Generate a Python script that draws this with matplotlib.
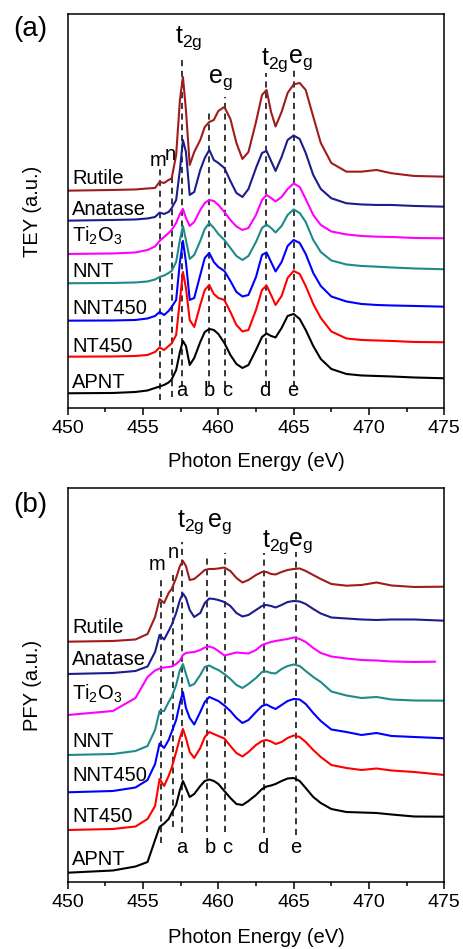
import matplotlib
matplotlib.use('Agg')
import matplotlib.pyplot as plt
from matplotlib.ticker import MultipleLocator

plt.rcParams['font.family'] = ['Liberation Sans', 'DejaVu Sans']
plt.rcParams['mathtext.default'] = 'regular'

# photon energy grid (eV) the spectra were read at
energy = [450, 453, 454.5, 455.3, 455.8, 456.1, 456.4, 456.7, 456.9, 457.2,
          457.45, 457.65, 457.85, 458.1, 458.4, 458.8, 459.1, 459.4, 459.7, 460.0,
          460.4, 460.8, 461.2, 461.6, 462.0, 462.5, 462.9, 463.2, 463.5, 463.8,
          464.2, 464.6, 465.0, 465.4, 465.8, 466.3, 466.8, 467.5, 468.5, 469.5,
          470.5, 471.5, 473, 475]

samples = ['Rutile', 'Anatase', '$Ti_2O_3$', 'NNT', 'NNT450', 'NT450', 'APNT']
colours = ['#a01c1c', '#1c1c8c', '#ff00ff', '#1f8a8a', '#0000ff', '#ff0000', '#000000']

# TEY, stacked intensities (a.u.)
tey_rutile = [217.3, 218, 218.5, 219.5, 220, 226, 225, 228, 229.5, 253,
              308, 331, 298, 243, 256, 268, 281, 286, 288, 297,
              301, 289, 265, 249, 256, 286, 313, 318, 296, 281.5,
              296, 315, 323.5, 325, 318, 291.3, 265, 245, 236.3, 236.3,
              238, 234.7, 232, 231.3]
tey_anatase = [187.3, 188, 188.5, 189.5, 191, 195.3, 194, 196, 199.7, 208,
               238, 268, 256, 213, 216, 238, 250, 258, 248, 245,
               240, 227, 215, 211, 219, 240, 255, 257, 247, 237,
               251, 268, 272.5, 269, 255, 233, 219, 209.7, 204.7, 203.5,
               203, 203, 202, 201.3]
tey_ti2o3 = [154, 154.5, 155.5, 158, 161.5, 167, 171, 175, 178, 185,
             194, 199, 190, 182, 186, 198, 205, 208, 207, 203,
             196, 188, 181.5, 178, 180, 193, 208, 213, 210, 206.5,
             211, 219, 224.5, 221, 209, 193, 183, 176.5, 173.5, 172,
             171.3, 171, 170, 169.7]
tey_nnt = [124.7, 125, 125.5, 126.5, 128.5, 131, 132.5, 135, 137, 146,
           168, 182, 168, 149, 153, 167, 179, 185, 180, 174,
           168, 160, 152, 148, 152, 166, 180, 183.5, 180, 175.5,
           182, 193, 198.5, 195, 186, 168, 156, 147.5, 143.5, 142,
           141.3, 140.5, 139.5, 138.7]
tey_nnt450 = [87.3, 87.5, 88, 89.5, 92, 96, 93, 97, 101, 108,
              146, 167, 146, 108, 110, 133, 150, 155, 146, 141,
              137, 127, 116, 111.5, 113, 131, 153, 155.5, 146, 136.5,
              146, 162, 168, 165, 154, 135, 122, 111.5, 106.5, 104,
              103, 102.5, 102, 101.3]
tey_nt450 = [51.3, 51.5, 52, 53, 56, 60.5, 58, 62, 64.5, 73,
             108, 136, 120, 88, 81, 103, 118, 123, 114, 110,
             108, 96, 83, 76.5, 78, 98, 118, 122.5, 113, 103,
             112, 130, 137, 134, 122, 104, 90, 76.5, 69.5, 68,
             67.5, 67, 66, 65.7]
tey_apnt = [14.7, 15, 16, 17.5, 20, 21.5, 23, 25.5, 28.5, 38,
            56, 67, 62, 43, 50, 66, 76, 79, 78, 74,
            65, 53, 44, 40, 43, 58, 71, 74.5, 72, 70.5,
            80, 92, 94, 89, 78, 62, 49, 39, 34, 32.5,
            32, 31.5, 30.5, 29.7]

# PFY, stacked intensities (a.u.)
pfy_rutile = [240.3, 241, 242.5, 248, 265, 283, 279, 289, 293, 304,
              316, 321, 316, 302, 303, 308, 312, 313, 313, 313.5,
              314.5, 311, 304, 299.5, 302, 307, 310, 310, 308, 307.5,
              310, 312, 313, 313.5, 311, 307, 303, 298, 296.3, 297,
              299.5, 296.5, 295, 295.3]
pfy_anatase = [208, 209, 211, 215.5, 230, 247, 242.5, 251, 257, 269,
               282, 288.5, 284, 272, 265, 269, 279, 283.5, 283, 282,
               280, 276, 269, 265.5, 267, 272, 276, 277, 276, 274.5,
               277, 280, 281, 280.5, 278, 273, 268.5, 264.5, 263.5, 262.5,
               262, 262.5, 262.5, 261.3]
pfy_ti2o3 = [167, 171, 184, 205, 211.5, 213.5, 214.5, 215, 215.5, 218,
             221.5, 227, 229, 229.5, 230, 232, 234.5, 235.5, 234, 231,
             226.5, 228, 229.5, 229, 228.5, 232, 237, 238.5, 240, 241,
             242, 243, 244.5, 243, 240, 234, 229, 225.5, 223.5, 222,
             221.5, 220.5, 220, 220.3]
pfy_nnt = [127, 128, 131, 136, 152, 171, 171, 180, 185, 197,
           212, 218, 208, 196, 198, 207, 215, 216.5, 214, 212,
           208, 203, 197, 194, 198, 204, 210, 210.5, 209, 208.5,
           213, 216, 217.5, 216, 211, 205, 200, 190.5, 186.5, 184,
           185, 182.5, 181.5, 181.3]
pfy_nnt450 = [89.7, 91, 94.5, 102, 118, 138.5, 134, 142, 150, 162,
              179, 190, 174, 164, 157.5, 170, 180, 185, 183, 181,
              176.5, 171, 164, 159, 162, 170, 176, 177.5, 175, 173,
              177, 181, 183, 182.5, 178, 169, 161, 152.5, 150, 147,
              149, 146, 145, 143.7]
pfy_nt450 = [52, 53, 55.5, 63, 76, 103, 96, 106, 114, 130,
             144, 153, 144, 130, 124, 134, 145, 150, 148, 146,
             143.5, 136, 129, 125.5, 130, 137, 141, 142, 140.5, 138,
             140, 144, 146.5, 145, 140, 132, 125, 117, 114, 112,
             113.5, 111.5, 110, 107]
pfy_apnt = [9.3, 11.5, 15.5, 20, 42, 55, 58.5, 63, 69, 77,
            92, 101, 94, 85, 88, 96, 101, 102.5, 101, 98,
            91, 84, 78, 77, 81, 87, 93, 95.5, 96.5, 98,
            101, 103.5, 104, 101, 94, 85, 79, 73, 70, 69.5,
            69, 67.5, 65.5, 65.3]

# Ti2O3 scans stop a little short of 475 eV
tey_ti2o3_end = 474.9
pfy_ti2o3_end = 474.4

# feature positions (eV): pre-edge m, n and main peaks a-e
peak_names = ['a', 'b', 'c', 'd', 'e']
tey_pre = [456.12, 456.9]
tey_peaks = [457.6, 459.38, 460.44, 463.16, 465.0]
pfy_pre = [456.17, 456.97]
pfy_peaks = [457.6, 459.24, 460.44, 463.05, 465.13]
tey_letters_x = [457.56, 459.4, 460.62, 463.09, 464.97]
pfy_letters_x = [457.56, 459.44, 460.62, 462.98, 465.13]

fig = plt.figure(figsize=(4.63, 9.49), dpi=100)
ax1 = fig.add_axes([0.1462, 0.5701, 0.8134, 0.4152])
ax2 = fig.add_axes([0.1462, 0.0706, 0.8134, 0.4152])

tey = [tey_rutile, tey_anatase, tey_ti2o3, tey_nnt, tey_nnt450, tey_nt450, tey_apnt]
pfy = [pfy_rutile, pfy_anatase, pfy_ti2o3, pfy_nnt, pfy_nnt450, pfy_nt450, pfy_apnt]


def draw_panel(ax, spectra, ti_end, pre, peaks, letters_x, layout):
    # dashed guide lines first so the spectra sit on top
    for e, (y0, y1) in zip(pre, layout['pre_span']):
        ax.plot([e, e], [y0, y1], color='k', lw=1.1, ls=(0, (4, 3)))
    for e, (y0, y1) in zip(peaks, layout['peak_span']):
        ax.plot([e, e], [y0, y1], color='k', lw=1.1, ls=(0, (4, 3)))

    for k, spec in enumerate(spectra):
        x = list(energy)
        if k == 2:
            x[-1] = ti_end
        ax.plot(x, spec, color=colours[k], lw=1.5,
                solid_joinstyle='round', solid_capstyle='round')

    for name, yb in zip(samples, layout['label_y']):
        ax.text(450.3, yb, name, fontsize=14.5, ha='left', va='baseline')

    for name, xl in zip(peak_names, letters_x):
        ax.text(xl, layout['letter_y'], name, fontsize=14.5, ha='center', va='baseline')
    for name, (xm, ym) in zip(['m', 'n'], layout['mn_pos']):
        ax.text(xm, ym, name, fontsize=14.5, ha='center', va='baseline')
    for name, (xm, ym) in zip(['$t_{2g}$', '$e_g$', '$t_{2g}$', '$e_g$'], layout['split_pos']):
        ax.text(xm, ym, name, fontsize=18, ha='left', va='baseline')

    ax.set_xlim(450, 475)
    ax.set_ylim(0, 394)
    ax.set_yticks([])
    ax.xaxis.set_major_locator(MultipleLocator(5))
    ax.xaxis.set_minor_locator(MultipleLocator(2.5))
    ax.tick_params(axis='x', which='major', direction='out', length=5, width=1.1,
                   labelsize=14, pad=3.5)
    ax.tick_params(axis='x', which='minor', direction='out', length=2.8, width=1.1)
    for sp in ax.spines.values():
        sp.set_linewidth(1.1)


draw_panel(ax1, tey, tey_ti2o3_end, tey_pre, tey_peaks, tey_letters_x, {
    'pre_span': [(8, 241), (11, 235)],
    'peak_span': [(21, 350), (21, 299), (21, 311), (21, 335), (21, 338)],
    'label_y': [224, 193, 166.5, 131.3, 94, 56.3, 19.7],
    'letter_y': 12,
    'mn_pos': [(456.0, 242.3), (456.84, 248)],
    'split_pos': [(457.12, 364.7), (459.33, 324.7), (462.83, 343), (464.64, 344.7)],
})

draw_panel(ax2, pfy, pfy_ti2o3_end, pfy_pre, pfy_peaks, pfy_letters_x, {
    'pre_span': [(39, 302), (55, 307)],
    'peak_span': [(49, 340), (50, 326), (50, 329), (49, 329), (47, 330)],
    'label_y': [248.7, 217, 182, 135.3, 101.3, 60.3, 17],
    'letter_y': 29.3,
    'mn_pos': [(455.95, 312), (457.0, 323.7)],
    'split_pos': [(457.23, 355.3), (459.26, 355.3), (462.87, 335.3), (464.64, 336)],
})

fig.text(0.0288, 0.9694, '(a)', fontsize=20, ha='left', va='center')
fig.text(0.0288, 0.4679, '(b)', fontsize=20, ha='left', va='center')
fig.text(0.0702, 0.7777, 'TEY (a.u.)', fontsize=14.5, rotation=90, ha='center', va='center')
fig.text(0.0702, 0.2782, 'PFY (a.u.)', fontsize=14.5, rotation=90, ha='center', va='center')
fig.text(0.5529, 0.5132, 'Photon Energy (eV)', fontsize=14.5, ha='center', va='center')
fig.text(0.5529, 0.0116, 'Photon Energy (eV)', fontsize=14.5, ha='center', va='center')

fig.savefig('out.png', dpi=100)
